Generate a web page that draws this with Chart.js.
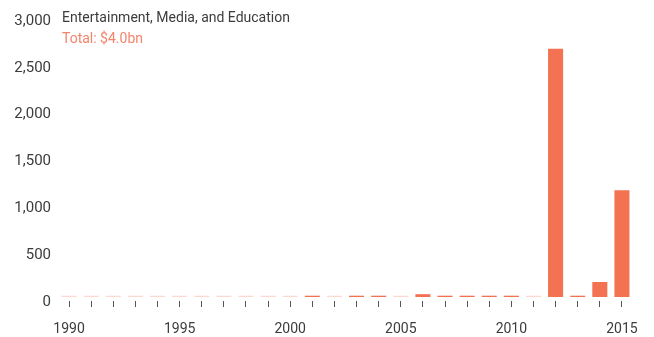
<!DOCTYPE html>
<html>
<head>
<meta charset="utf-8">
<script src="https://cdn.jsdelivr.net/npm/chart.js@4/dist/chart.umd.min.js"></script>
<style>
  html, body { margin: 0; padding: 0; background: #fff; }
  #wrap { width: 654px; height: 337px; position: relative; }
</style>
</head>
<body>
<div id="wrap"><canvas id="c" width="654" height="337"></canvas></div>
<script>
const years = ['1990','1991','1992','1993','1994','1995','1996','1997','1998','1999','2000',
  '2001','2002','2003','2004','2005','2006','2007','2008','2009','2010','2011','2012','2013','2014','2015'];
const values = [0,0,0,0,0,0,0,0,0,0,0,
  10,0,10,12,0,30,8,10,10,10,0,2650,10,160,1140];
const yTicks = [0, 500, 1000, 1500, 2000, 2500, 3000];
const titleText = 'Entertainment, Media, and Education';
const subtitleText = 'Total: $4.0bn';

const ORANGE = '#f27252';
const PINK = '#fbd9d1';
const TEXT = '#3c3c3c';
const FONT = 'Roboto';

const titlePlugin = {
  id: 'titles',
  afterDraw(chart) {
    const ctx = chart.ctx;
    ctx.save();
    ctx.textAlign = 'left';
    ctx.textBaseline = 'middle';
    ctx.font = '14px ' + FONT;
    ctx.fillStyle = TEXT;
    ctx.fillText(titleText, 62, 18.5);
    ctx.fillStyle = '#f4846c';
    ctx.fillText(subtitleText, 62, 39);
    ctx.restore();
  }
};

new Chart(document.getElementById('c'), {
  type: 'bar',
  data: {
    labels: years,
    datasets: [{
      data: values,
      backgroundColor: values.map(v => v === 0 ? PINK : ORANGE),
      barPercentage: 0.68,
      categoryPercentage: 1.0,
      minBarLength: 1.3,
      borderWidth: 0
    }]
  },
  options: {
    responsive: false,
    animation: false,
    devicePixelRatio: 1,
    layout: { padding: { top: 16, right: 21, bottom: 0, left: 0 } },
    plugins: { legend: { display: false }, tooltip: { enabled: false }, title: { display: false } },
    scales: {
      x: {
        offset: true,
        border: { display: false },
        grid: {
          offset: false,
          drawOnChartArea: false,
          drawTicks: true,
          tickLength: 10,
          tickBorderDash: [0, 4, 6, 20],
          tickColor: '#555',
          lineWidth: 1
        },
        ticks: {
          autoSkip: false,
          maxRotation: 0,
          padding: 14,
          color: TEXT,
          font: { family: FONT, size: 14 },
          callback: function(val, i) { const y = years[i]; return (+y) % 5 === 0 ? y : ''; }
        },
        afterFit(scale) { scale.height = 40; }
      },
      y: {
        min: 0,
        max: 3000,
        afterBuildTicks(scale) { scale.ticks = yTicks.map(v => ({ value: v })); },
        border: { display: false },
        grid: { display: false, drawTicks: false },
        ticks: {
          padding: 7,
          labelOffset: 5,
          color: TEXT,
          font: { family: FONT, size: 15 },
          callback: v => v.toLocaleString('en-US')
        },
        afterFit(scale) { scale.width = 58; }
      }
    }
  },
  plugins: [titlePlugin]
});
</script>
</body>
</html>
